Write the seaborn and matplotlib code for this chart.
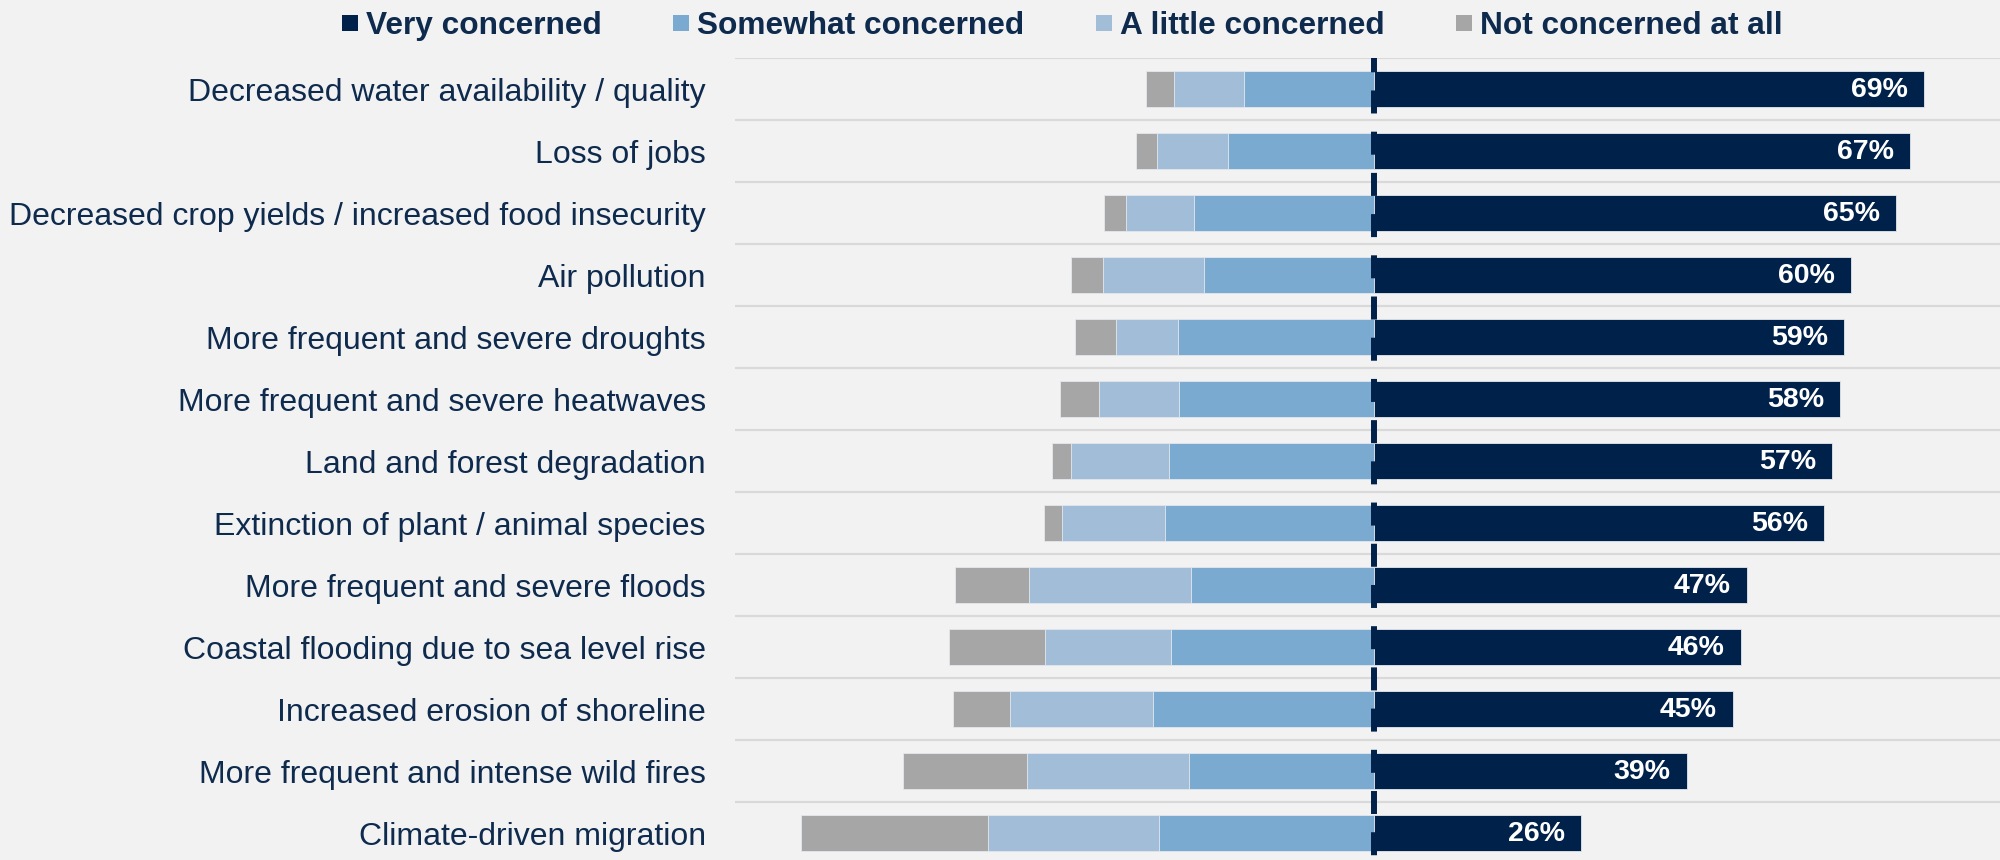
import matplotlib
matplotlib.use("Agg")
import matplotlib.pyplot as plt
from matplotlib.lines import Line2D
import pandas as pd
import seaborn as sns

# values (percent of respondents)
issues = [
    "Decreased water availability / quality",
    "Loss of jobs",
    "Decreased crop yields / increased food insecurity",
    "Air pollution",
    "More frequent and severe droughts",
    "More frequent and severe heatwaves",
    "Land and forest degradation",
    "Extinction of plant / animal species",
    "More frequent and severe floods",
    "Coastal flooding due to sea level rise",
    "Increased erosion of shoreline",
    "More frequent and intense wild fires",
    "Climate-driven migration",
]
very = [69.0, 67.2, 65.4, 59.8, 58.9, 58.4, 57.4, 56.4, 46.7, 46.0, 45.0, 39.2, 25.9]
somewhat = [16.3, 18.4, 22.6, 21.3, 24.6, 24.5, 25.8, 26.3, 23.0, 25.5, 27.8, 23.2, 27.0]
little = [8.8, 8.8, 8.5, 12.7, 7.8, 10.0, 12.2, 12.9, 20.3, 15.8, 17.9, 20.4, 21.5]
not_at_all = [3.5, 2.7, 2.8, 4.1, 5.1, 4.9, 2.4, 2.2, 9.3, 12.0, 7.1, 15.5, 23.4]
series_names = ["Very concerned", "Somewhat concerned", "A little concerned", "Not concerned at all"]

BG = "#F2F2F2"
NAVY = "#00214A"
MID = "#7BAAD0"
LIGHT = "#A2BDD7"
GREY = "#A6A6A6"
TEXT = "#0E2A4D"
colors = [NAVY, MID, LIGHT, GREY]

df = pd.DataFrame({"issue": issues, "very": very, "somewhat": somewhat,
                   "little": little, "not": not_at_all})
# negative side is stacked by drawing the longest bar first, shorter on top
df["neg_not"] = -(df["somewhat"] + df["little"] + df["not"])
df["neg_little"] = -(df["somewhat"] + df["little"])
df["neg_some"] = -df["somewhat"]

sns.set_style("white", {"axes.facecolor": BG, "figure.facecolor": BG})
plt.rcParams["font.family"] = ["Liberation Sans", "DejaVu Sans"]

fig = plt.figure(figsize=(20, 8.6), dpi=100, facecolor=BG)
ax = fig.add_axes([0.3675, 0.0, 0.6325, 1 - 58 / 860])
ax.set_facecolor(BG)

for col, c in [("neg_not", GREY), ("neg_little", LIGHT), ("neg_some", MID), ("very", NAVY)]:
    sns.barplot(data=df, x=col, y="issue", orient="h", color=c, saturation=1,
                width=0.57, errorbar=None, edgecolor="#E4E8EE", linewidth=0.6,
                ax=ax, zorder=2)

# row separators
for i in range(len(issues)):
    ax.axhline(i - 0.5, color="#D9D9D9", lw=1.6, zorder=0)

# dashed centre line
ax.axvline(0, color=NAVY, lw=4.3, linestyle=(6.1, (3.85, 3.05)), zorder=3)

ax.set_xlim(-80.2, 78.5)
ax.set_ylim(12.435, -0.5)

for i, v in enumerate(df["very"]):
    ax.annotate(f"{v:.0f}%", xy=(v, i), xytext=(-11.5, -1), textcoords="offset points",
                ha="right", va="center", color="white", fontsize=20.5,
                fontweight="bold", zorder=4)

ax.set_xlabel("")
ax.set_ylabel("")
ax.set_xticks([])
ax.tick_params(axis="y", length=0, pad=21, labelsize=23, labelcolor=TEXT)
sns.despine(ax=ax, left=True, bottom=True)

handles = [Line2D([], [], linestyle="none", marker="s", markersize=12,
                  markerfacecolor=c, markeredgewidth=0) for c in colors]
leg = fig.legend(handles, series_names, loc="center", bbox_to_anchor=(0.5308, 0.9698),
                 ncol=4, frameon=False, handlelength=0.6, handletextpad=0.22,
                 columnspacing=2.2, borderaxespad=0,
                 prop={"weight": "bold", "size": 22.8})
for t in leg.get_texts():
    t.set_color(TEXT)

fig.savefig("out.png", dpi=100, facecolor=BG)
